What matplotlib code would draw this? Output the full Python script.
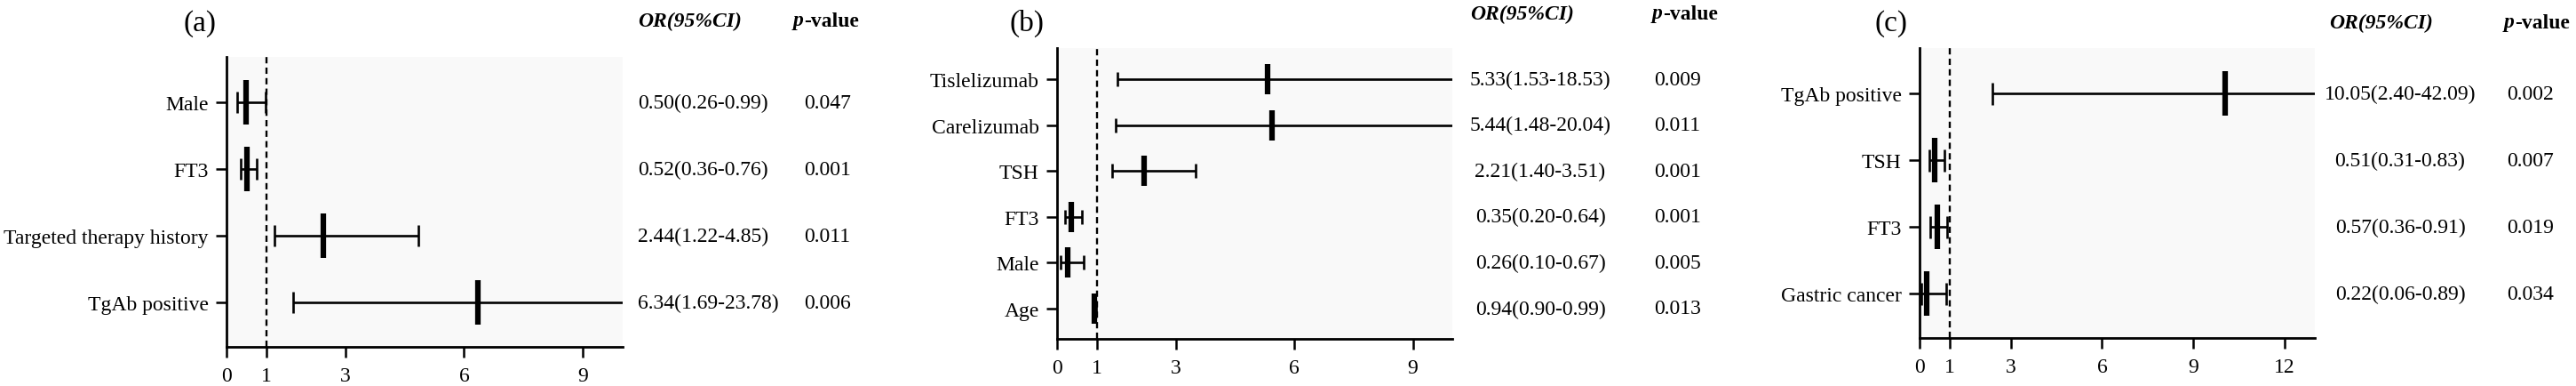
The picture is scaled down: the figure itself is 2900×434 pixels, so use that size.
import matplotlib
matplotlib.use('Agg')
import matplotlib.pyplot as plt
from matplotlib.transforms import blended_transform_factory

plt.rcParams['font.family'] = ['Liberation Serif', 'DejaVu Serif']

# panel (a)
labels_a = ['Male', 'FT3', 'Targeted therapy history', 'TgAb positive']
or_a = [0.50, 0.52, 2.44, 6.34]
lo_a = [0.26, 0.36, 1.22, 1.69]
hi_a = [0.99, 0.76, 4.85, 23.78]
p_a = ['0.047', '0.001', '0.011', '0.006']

# panel (b)
labels_b = ['Tislelizumab', 'Carelizumab', 'TSH', 'FT3', 'Male', 'Age']
or_b = [5.33, 5.44, 2.21, 0.35, 0.26, 0.94]
lo_b = [1.53, 1.48, 1.40, 0.20, 0.10, 0.90]
hi_b = [18.53, 20.04, 3.51, 0.64, 0.67, 0.99]
p_b = ['0.009', '0.011', '0.001', '0.001', '0.005', '0.013']

# panel (c)
labels_c = ['TgAb positive', 'TSH', 'FT3', 'Gastric cancer']
or_c = [10.05, 0.51, 0.57, 0.22]
lo_c = [2.40, 0.31, 0.36, 0.06]
hi_c = [42.09, 0.83, 0.91, 0.89]
p_c = ['0.002', '0.007', '0.019', '0.034']

xticks_ab = [0, 1, 3, 6, 9]
xticks_c = [0, 1, 3, 6, 9, 12]

W, H = 2900, 435


def fx(px):
    return px / W


def fy(py):
    return 1 - py / H


fig = plt.figure(figsize=(29, 4.35), dpi=100)

panels = [
    dict(tag='(a)', labels=labels_a, OR=or_a, lo=lo_a, hi=hi_a, p=p_a,
         box=(255, 65, 700.7, 391), xmax=10, xticks=xticks_ab,
         bar=36, cap=8.6, tag_xy=(207, 27),
         head_y=24, or_x=718, p_x=893, val_x=718, val_ha='left', pv_x=905),
    dict(tag='(b)', labels=labels_b, OR=or_b, lo=lo_b, hi=hi_b, p=p_b,
         box=(1190, 55, 1635, 382), xmax=10, xticks=xticks_ab,
         bar=24, cap=6.1, tag_xy=(1136, 26),
         head_y=16, or_x=1655, p_x=1860, val_x=1734, val_ha='center', pv_x=1862),
    dict(tag='(c)', labels=labels_c, OR=or_c, lo=lo_c, hi=hi_c, p=p_c,
         box=(2161, 55, 2606, 381), xmax=13, xticks=xticks_c,
         bar=36, cap=9.0, tag_xy=(2111, 27),
         head_y=26, or_x=2622, p_x=2819, val_x=2702, val_ha='center', pv_x=2822),
]

fs = 17

for pn in panels:
    l, t, r, b = pn['box']
    ax = fig.add_axes([fx(l), fy(b), (r - l) / W, (b - t) / H])
    ax.set_facecolor('#f9f9f9')
    n = len(pn['labels'])
    y = list(range(n))
    OR, lo, hi = pn['OR'], pn['lo'], pn['hi']
    xerr = [[o - a for o, a in zip(OR, lo)], [c - o for o, c in zip(OR, hi)]]

    ax.axvline(1, color='black', lw=1.7, ls=(0, (3, 2)), zorder=1)
    ax.errorbar(OR, y, xerr=xerr, fmt='none', ecolor='black',
                elinewidth=1.9, capsize=pn['cap'], capthick=1.9, zorder=3)
    ax.plot(OR, y, ls='none', marker='|', ms=pn['bar'], mew=4.5,
            color='black', zorder=4)

    ax.set_xlim(0, pn['xmax'])
    ax.set_ylim(n - 1 + 0.66, -0.68)
    ax.set_xticks(pn['xticks'])
    ax.set_yticks(y)
    ax.set_yticklabels(pn['labels'])
    ax.tick_params(axis='both', direction='out', length=8.6, width=1.8,
                   labelsize=fs, color='black')
    ax.tick_params(axis='x', pad=7)
    ax.tick_params(axis='y', pad=6)
    for s in ['top', 'right']:
        ax.spines[s].set_visible(False)
    for s in ['left', 'bottom']:
        ax.spines[s].set_linewidth(2)

    # panel tag and column headers
    fig.text(fx(pn['tag_xy'][0]), fy(pn['tag_xy'][1]), pn['tag'],
             fontsize=24, ha='left', va='center')
    fig.text(fx(pn['or_x']), fy(pn['head_y']), 'OR(95%CI)', fontsize=fs,
             fontweight='bold', fontstyle='italic', ha='left', va='center')
    tp = fig.text(fx(pn['p_x']), fy(pn['head_y']), 'p', fontsize=fs,
                  fontweight='bold', fontstyle='italic', ha='left', va='center')
    ax.annotate('-value', xy=(1, 0), xycoords=tp, fontsize=fs,
                fontweight='bold', ha='left', va='bottom')

    # value columns
    tr = blended_transform_factory(fig.transFigure, ax.transData)
    for i in range(n):
        s = '%.2f(%.2f-%.2f)' % (OR[i], lo[i], hi[i])
        ax.text(fx(pn['val_x']), y[i], s, transform=tr, fontsize=fs,
                ha=pn['val_ha'], va='center', clip_on=False)
        ax.text(fx(pn['pv_x']), y[i], pn['p'][i], transform=tr, fontsize=fs,
                ha='left', va='center', clip_on=False)

fig.savefig('out.png', dpi=100)
